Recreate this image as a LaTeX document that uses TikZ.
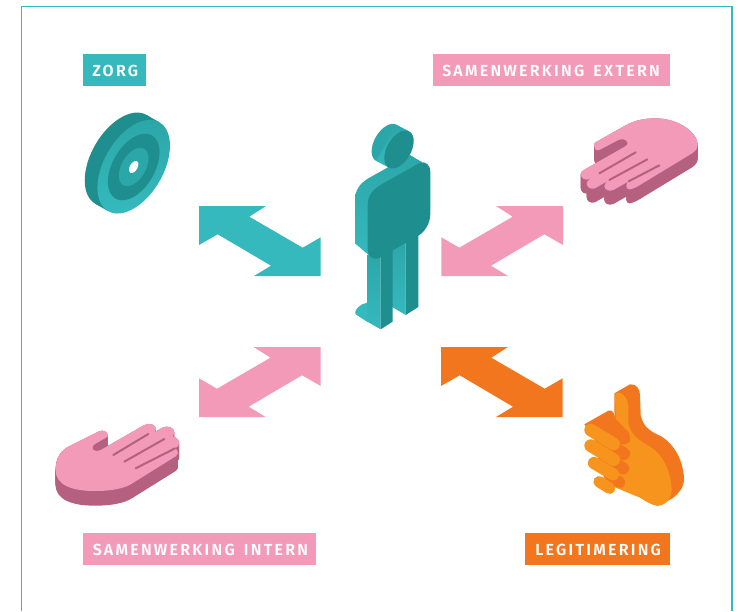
\documentclass[tikz,border=0pt]{standalone}
\usepackage{fontspec}
\setmainfont{Fira Sans}[Ligatures=TeX]
\newfontfamily\labelfont{Fira Sans}[UprightFont=* SemiBold,LetterSpace=14,WordSpace=1.5]
\definecolor{teal}{HTML}{35B9BD}
\definecolor{tealmid}{HTML}{2CA7A9}
\definecolor{tealdark}{HTML}{1F8E8E}
\definecolor{pinkl}{HTML}{F49AB9}
\definecolor{pinkd}{HTML}{B5607F}
\definecolor{orangel}{HTML}{F7941D}
\definecolor{oranged}{HTML}{F2761D}
\tikzset{
 lab/.style={text=white,font=\labelfont\fontsize{12pt}{14pt}\selectfont,inner sep=0pt,anchor=west},
 facegrad/.style={top color=tealmid,bottom color=teal},
 slit/.style={pinkd,line width=1.5pt,line cap=round},
}
\newcommand{\bigarrow}{(0,0)--(67,0)--(50.3,10.7)--(103.7,41.7)--(121.7,31.3)--(121.7,70)--(55,70)--(72,59.7)--(18.7,28.3)--(0,39)--cycle}
\newcommand{\rhand}{(80,95) -- (165,47) .. controls (195,30) and (225,25) .. (255,25) .. controls (330,25) and (383,70) .. (383,105) .. controls (383,120) and (370,128) .. (358,135) -- (218,220) .. controls (200,232) and (185,238) .. (178,238) .. controls (168,238) and (165,222) .. (176,214) -- (130,240) .. controls (115,246) and (103,238) .. (103,228) .. controls (103,220) and (110,216) .. (118,210) -- (75,235) .. controls (60,240) and (50,230) .. (50,220) .. controls (50,212) and (60,208) .. (85,193) -- (60,207) .. controls (45,213) and (32,205) .. (32,192) .. controls (32,185) and (38,182) .. (45,178) -- (150,118) .. controls (165,110) and (175,105) .. (172,97) .. controls (170,88) and (155,85) .. (145,90) -- (88,120) .. controls (75,125) and (72,112) .. (72,105) .. controls (72,100) and (76,97) .. (80,95) -- cycle}
\newcommand{\lhand}{(32,165) .. controls (32,125) and (50,105) .. (72,94) -- (160,50) .. controls (175,42) and (190,50) .. (188,65) -- (150,87) .. controls (140,93) and (138,107) .. (155,108) .. controls (165,108) and (175,100) .. (190,92) -- (298,30) .. controls (315,22) and (333,30) .. (333,42) .. controls (333,46) and (330,50) .. (328,52) -- (352,38) .. controls (368,30) and (388,38) .. (388,52) .. controls (388,56) and (385,60) .. (383,64) .. controls (395,66) and (405,78) .. (402,88) .. controls (400,94) and (396,97) .. (390,100) .. controls (400,105) and (402,118) .. (392,124) -- (262,205) .. controls (240,220) and (200,228) .. (150,228) .. controls (80,228) and (32,210) .. (32,165) -- cycle}
\begin{document}
\begin{tikzpicture}[x=0.75pt,y=-0.75pt]
\useasboundingbox (0,0) rectangle (738,611);
% frame
\draw[teal,line width=0.8pt] (21.7,611) -- (21.7,6.3) -- (732,6.3) -- (732,611);
% labels
\fill[teal] (83,54) rectangle (146,86);
\node[lab] (zorg) at (92,71) {ZORG};
\fill[pinkl] (433,54) rectangle (670,86);
\node[lab] (extern) at (442,71) {SAMENWERKING EXTERN};
\fill[pinkl] (83,533) rectangle (316,565);
\node[lab] (intern) at (92.5,550) {SAMENWERKING INTERN};
\fill[oranged] (525,533) rectangle (670,565);
\node[lab] (legit) at (535,550) {LEGITIMERING};
% arrows
\begin{scope}[shift={(199,206)}] \fill[teal] \bigarrow; \end{scope}
\begin{scope}[shift={(441,347)}] \fill[oranged] \bigarrow; \end{scope}
\begin{scope}[shift={(563,206)},xscale=-1] \fill[pinkl] \bigarrow; \end{scope}
\begin{scope}[shift={(320.7,347)},xscale=-1] \fill[pinkl] \bigarrow; \end{scope}
% target
\begin{scope}[shift={(133.7,166.7)}]
 \fill[tealdark] (-12.7,-7.3) ellipse[x radius=51.3*0.75pt,y radius=29.6*0.75pt,rotate=60];
 \fill[tealdark] (25.65,-44.4) -- (12.95,-51.7) -- (-38.35,37.1) -- (-25.65,44.4) -- cycle;
 \shade[facegrad] (0,0) ellipse[x radius=51.3*0.75pt,y radius=29.6*0.75pt,rotate=60];
 \fill[tealdark] (0,0.3) ellipse[x radius=36.5*0.75pt,y radius=21.1*0.75pt,rotate=60];
 \fill[tealmid] (0,0.3) ellipse[x radius=21*0.75pt,y radius=12.1*0.75pt,rotate=60];
 \fill[white] (0,0.3) ellipse[x radius=6.6*0.75pt,y radius=3.8*0.75pt,rotate=60];
\end{scope}
% person (zoomed coordinates)
\begin{scope}[shift={(340,115)},x=0.25pt,y=-0.25pt]
 \fill[teal] (84,562) -- (66,568) .. controls (50,578) and (42,590) .. (47,598) -- (84,622) -- cycle;
 \shade[facegrad] (158,405) -- (197,380) -- (197,600) -- (158,577) -- cycle;
 \fill[tealdark] (197,380) -- (235,358) -- (235,576) -- (197,600) -- cycle;
 \shade[facegrad] (82,420) -- (122,425) -- (122,643) -- (82,620) -- cycle;
 \fill[tealdark] (122,425) -- (158,405) -- (158,620) -- (122,643) -- cycle;
 \shade[facegrad] (247,142) -- (210,120) -- (85,190) .. controls (60,205) and (45,225) .. (45,255) -- (45,385) -- (95,428) -- (105,432) -- (85,270) -- cycle;
 \fill[tealdark] (125,208) -- (240,143) .. controls (258,138) and (271,150) .. (271,172) -- (271,295) .. controls (271,325) and (255,350) .. (235,362) -- (120,428) .. controls (100,438) and (83,425) .. (83,405) -- (83,270) .. controls (83,240) and (100,222) .. (125,208) -- cycle;
 % head
 \fill[tealmid] (139,83.5) ellipse[x radius=20.8*0.75pt,y radius=12*0.75pt,rotate=60];
 \shade[facegrad] (208,49.5) -- (170,29.5) -- (108,137.5) -- (146,157.5) -- cycle;
 \fill[tealdark] (177,103.5) ellipse[x radius=20.8*0.75pt,y radius=12*0.75pt,rotate=60];
\end{scope}
% right hand
\begin{scope}[shift={(570,110)},x=0.25pt,y=-0.25pt]
 \foreach \d in {0,2,...,42} { \fill[pinkd,yshift=-\d*0.25pt] \rhand; }
 \fill[pinkl] \rhand;
 \draw[slit] (88,190) -- (197,127);
 \draw[slit] (118,210) -- (232,148);
 \draw[slit] (176,214) -- (268,166);
\end{scope}
% left hand
\begin{scope}[shift={(45,415)},x=0.25pt,y=-0.25pt]
 \foreach \d in {0,2,...,44} { \fill[pinkd,yshift=-\d*0.25pt] \lhand; }
 \fill[pinkl] \lhand;
 \draw[slit] (205,120) -- (310,57);
 \draw[slit] (238,140) -- (358,72);
 \draw[slit] (272,160) -- (390,100);
\end{scope}
% thumb
\begin{scope}[shift={(575,375)},x=0.25pt,y=-0.25pt]
 \fill[oranged] (118,55) -- (165,28) .. controls (185,25) and (195,45) .. (195,60) -- (197,120) .. controls (205,160) and (230,170) .. (260,185) .. controls (300,210) and (325,260) .. (327,310) .. controls (327,340) and (310,355) .. (295,368) -- (260,388) -- (245,392) -- (120,300) -- cycle;
 \fill[orangel] (120,60) .. controls (120,50) and (135,50) .. (145,60) .. controls (158,72) and (160,85) .. (160,100) -- (160,145) .. controls (168,180) and (190,195) .. (225,215) .. controls (265,240) and (288,290) .. (290,345) .. controls (290,375) and (265,395) .. (245,392) .. controls (230,390) and (210,378) .. (195,368) -- (115,335) -- (122,130) -- cycle;
 \fill[oranged] (28,148) -- (100,107) .. controls (112,103) and (120,115) .. (120,130) -- (163,175) -- (165,200) -- (120,215) -- (44,170) -- cycle;
 \foreach \a/\b/\c/\e/\w in {47/165/116/207/9.5,47/212/116/254/9.5,57/264/114/298/9.2,72/320/104/340/8.5} {
   \draw[oranged,line width=\w pt,line cap=round] (\a+30,\b-18) -- (\c+30,\e-18);
 }
 \foreach \a/\b/\c/\e/\w in {72/320/104/340/8.5,57/264/114/298/9.2,47/212/116/254/9.5,47/165/116/207/9.5} {
   \draw[orangel,line width=\w pt,line cap=round] (\a,\b) -- (\c,\e);
 }
\end{scope}
\end{tikzpicture}
\end{document}
